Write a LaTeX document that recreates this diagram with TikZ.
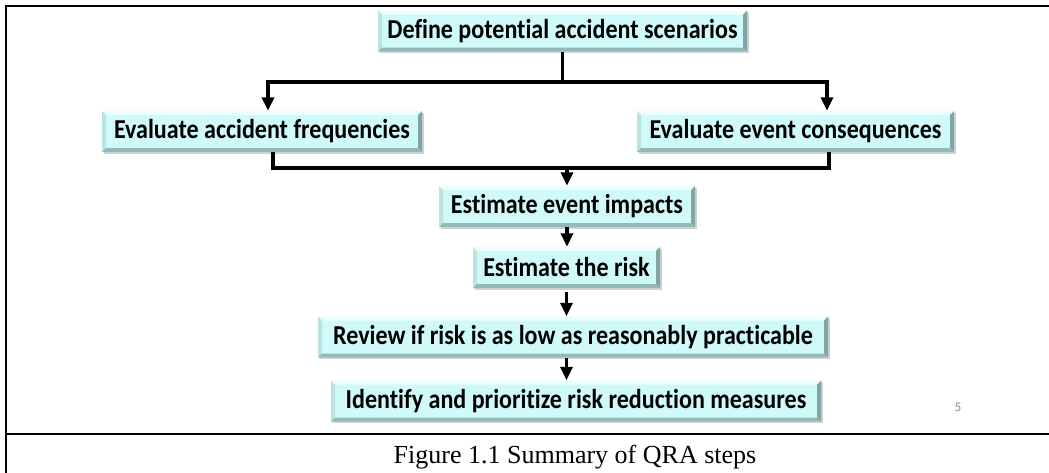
\documentclass[tikz,border=0pt]{standalone}
\usepackage{fontspec}
\setmainfont{Liberation Serif}
\newfontfamily\boxfont[FakeStretch=0.88,RawFeature=-liga]{Carlito}
\newfontfamily\pagefont{Carlito}
\usetikzlibrary{arrows.meta,shadows}

\definecolor{face}{RGB}{208,250,250}
\definecolor{bevlight}{RGB}{236,255,255}
\definecolor{bevside}{RGB}{186,228,228}
\definecolor{bevdark}{RGB}{126,166,166}
\definecolor{bevbottom}{RGB}{146,184,184}

\tikzset{
  sz/.style 2 args={minimum width={#1*0.75pt}, minimum height={#2*0.75pt}},
  stepbox/.style={rectangle, fill=face, inner sep=0pt, text=black,
    font=\boxfont\bfseries\fontsize{20.5}{23}\selectfont,
    drop shadow={shadow xshift=1.2pt, shadow yshift=-1.2pt, opacity=0.3, fill=black!60},
    path picture={
      \coordinate (pnw) at (path picture bounding box.north west);
      \coordinate (pne) at (path picture bounding box.north east);
      \coordinate (psw) at (path picture bounding box.south west);
      \coordinate (pse) at (path picture bounding box.south east);
      % bevelled rim: light top and left, dark right and bottom
      \fill[bevlight] (pnw) -- (pne) -- ([xshift=-3pt,yshift=-3pt]pne) -- ([xshift=3pt,yshift=-3pt]pnw) -- cycle;
      \fill[bevside] (pnw) -- (psw) -- ([xshift=3pt,yshift=3pt]psw) -- ([xshift=3pt,yshift=-3pt]pnw) -- cycle;
      \fill[bevdark] (pne) -- (pse) -- ([xshift=-3pt,yshift=3pt]pse) -- ([xshift=-3pt,yshift=-3pt]pne) -- cycle;
      \fill[bevbottom] (psw) -- (pse) -- ([xshift=-3pt,yshift=3pt]pse) -- ([xshift=3pt,yshift=3pt]psw) -- cycle;
    }},
  conn/.style={line width=2.4pt, line join=miter, draw=black},
  arrow/.style={conn, -{Triangle[width=9pt,length=10pt]}},
  frame/.style={line width=1.5pt, draw=black},
}

\begin{document}
\begin{tikzpicture}[x=0.75pt, y=-0.75pt]
  \useasboundingbox (0,0) rectangle (1049,472);
  \clip (0,0) rectangle (1049,472);

  % outer table frame and caption row
  \draw[frame] (1060,5.5) -- (6,5.5) -- (6,480);
  \draw[frame] (6,434) -- (1060,434);

  % process steps
  \node[stepbox, sz={369}{41}] (def)  at (562.5,31)  {Define potential accident scenarios};
  \node[stepbox, sz={320}{41}] (freq) at (262,131.5) {Evaluate accident frequencies};
  \node[stepbox, sz={317}{41}] (cons) at (795.5,131.5) {Evaluate event consequences};
  \node[stepbox, sz={256}{41}] (imp)  at (567,206.5) {Estimate event impacts};
  \node[stepbox, sz={187}{41}] (risk) at (566.5,267.5) {Estimate the risk};
  \node[stepbox, sz={510}{41}] (rev)  at (573,337)   {Review if risk is as low as reasonably practicable};
  \node[stepbox, sz={490}{41}] (idf)  at (576,401)   {Identify and prioritize risk reduction measures};

  % split and merge points
  \coordinate (sa) at (268,82);
  \coordinate (sb) at (827,82);
  \coordinate (ma) at (273,168);
  \coordinate (mb) at (829,168);

  % connectors
  \draw[arrow] (def.south |- sa) -- (sa) -- (sa |- freq.north);
  \draw[arrow] (def.south |- sb) -- (sb) -- (sb |- cons.north);
  \draw[conn] (def.south) -- (def.south |- sa);
  \draw[conn] (ma |- freq.south) -- (ma) -- (mb) -- (mb |- cons.south);
  \draw[arrow] (imp.north |- ma) -- (imp.north);
  \draw[arrow] (imp.south) -- (imp.south |- risk.north);
  \draw[arrow] ([yshift=-3pt]risk.south) -- (risk.south |- rev.north);
  \draw[arrow] (risk.south |- rev.south) -- (risk.south |- idf.north);

  % slide number
  \node[font=\pagefont\fontsize{10}{11}\selectfont, text=black!45] (pg) at (958,407) {5};

  % caption
  \node[font=\fontsize{19.5}{22}\selectfont, anchor=base] (cap) at (575,463) {Figure 1.1 Summary of QRA steps};
\end{tikzpicture}
\end{document}
